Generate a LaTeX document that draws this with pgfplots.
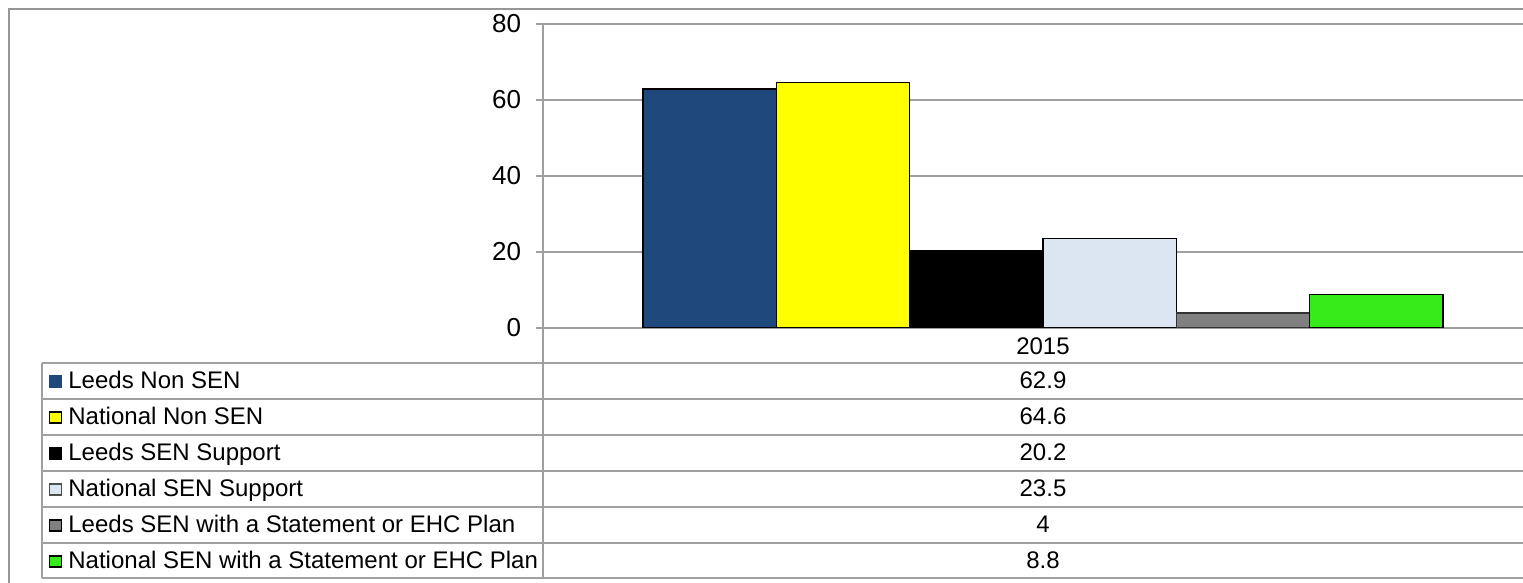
\documentclass[border=0pt]{standalone}
\usepackage{pgfplots}
\pgfplotsset{compat=1.18}
\usepackage{fontspec}
\setmainfont{Liberation Sans}
\definecolor{lnsen}{RGB}{31,73,125}
\definecolor{nnsen}{RGB}{255,255,0}
\definecolor{lsup}{RGB}{0,0,0}
\definecolor{nsup}{RGB}{220,230,242}
\definecolor{lstat}{RGB}{128,128,128}
\definecolor{nstat}{RGB}{55,235,26}
\definecolor{framegray}{RGB}{150,150,150}
\definecolor{gridgray}{RGB}{160,160,160}
\newcommand\F{\fontsize{12}{14.4}\selectfont}
\newcommand\T{\fontsize{13}{15.6}\selectfont}
\begin{document}
\begin{tikzpicture}
\path[use as bounding box] (0,0) rectangle (761.5pt,291.5pt);
\clip (0,0) rectangle (761.5pt,291.5pt);
\begin{axis}[
  at={(271.5pt,127.5pt)}, anchor=south west,
  scale only axis, width=500pt, height=152pt,
  xmin=-500, xmax=500, ymin=0, ymax=80,
  ytick={0,20,40,60,80}, xtick=\empty,
  ymajorgrids, grid style={gridgray, line width=0.75pt},
  axis x line*=bottom, axis y line*=left,
  axis line style={gridgray, line width=0.75pt, -},
  y tick style={gridgray, line width=0.75pt},
  tick align=outside, major tick length=3.5pt,
  /pgf/number format/assume math mode=true,
  yticklabel style={font=\T, anchor=east, inner sep=0pt, xshift=-7.3pt},
  ybar, bar width=66.667pt,
]
\addplot[fill=lnsen, draw=black, line width=0.8pt, bar shift=-166.667pt] coordinates {(0,62.9)};
\addplot[fill=nnsen, draw=black, line width=0.8pt, bar shift=-100pt] coordinates {(0,64.6)};
\addplot[fill=lsup, draw=black, line width=0.8pt, bar shift=-33.333pt] coordinates {(0,20.2)};
\addplot[fill=nsup, draw=black, line width=0.8pt, bar shift=33.333pt] coordinates {(0,23.5)};
\addplot[fill=lstat, draw=black!80, line width=0.8pt, bar shift=100pt] coordinates {(0,4)};
\addplot[fill=nstat, draw=black, line width=0.8pt, bar shift=166.667pt] coordinates {(0,8.8)};
\end{axis}
\begin{scope}[x=0.5pt, y=-0.5pt, shift={(0,291.5pt)}]
  \draw[framegray, line width=0.8pt] (9,700) -- (9,9) -- (1700,9);
  \foreach \yy in {363,399,435,471,507,543,578}
    \draw[gridgray, line width=0.75pt] (42,\yy) -- (1700,\yy);
  \draw[gridgray, line width=0.75pt] (42,363) -- (42,578);
  \draw[gridgray, line width=0.75pt] (543,328) -- (543,578);
  \node[anchor=base, inner sep=0pt, font=\F] at (1043,355) {2015};
  \foreach \i/\c/\b/\t/\v in {0/lnsen/lnsen/Leeds Non SEN/62.9, 1/nnsen/black/National Non SEN/64.6, 2/lsup/black/Leeds SEN Support/20.2, 3/nsup/black!70/National SEN Support/23.5, 4/lstat/black/Leeds SEN with a Statement or EHC Plan/4, 5/nstat/black/National SEN with a Statement or EHC Plan/8.8} {
    \pgfmathsetmacro{\yc}{381.5+36*\i}
    \draw[fill=\c, draw=\b, line width=0.6pt] (49.5,\yc-5.5) rectangle (61.5,\yc+5.5);
    \node[anchor=base west, inner sep=0pt, font=\F] at (68,\yc+7.5) {\t};
    \node[anchor=base, inner sep=0pt, font=\F] at (1043,\yc+7.5) {\v};
  }
\end{scope}
\end{tikzpicture}
\end{document}
